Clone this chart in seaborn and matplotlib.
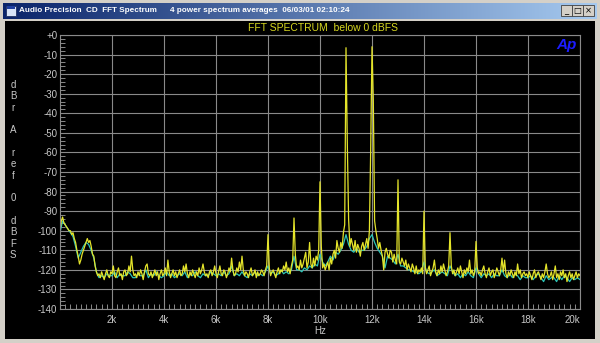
import numpy as np
import pandas as pd
import matplotlib
matplotlib.use("Agg")
import matplotlib.pyplot as plt
import seaborn as sns
from matplotlib.patches import Rectangle
from matplotlib.ticker import MultipleLocator

# ---------------- data (dB re 0 dBFS) ----------------
yellow_step_hz = 50
yellow_db = [
    -100, -95, -93, -96, -97, -98, -99, -100, -100, -102, -101, -104, -106, -110, -113, -117, -115, -112, -110, -108,
    -106, -104, -106, -105, -108, -112, -113, -118, -121, -123, -122, -124, -121, -123, -125, -122, -120, -123, -124, -121,
    -122, -118, -123, -124, -121, -119, -123, -122, -125, -121, -120, -123, -122, -118, -121, -113, -120, -123, -122, -124,
    -121, -123, -120, -122, -125, -121, -118, -117, -122, -123, -121, -124, -122, -120, -123, -121, -125, -122, -120, -123,
    -122, -119, -123, -115, -121, -124, -122, -120, -123, -121, -124, -122, -120, -123, -122, -118, -121, -117, -122, -124,
    -121, -123, -120, -122, -124, -121, -123, -119, -122, -120, -117, -121, -123, -122, -124, -121, -120, -123, -121, -118,
    -122, -124, -121, -118, -122, -123, -120, -121, -124, -122, -119, -121, -114, -120, -123, -122, -119, -121, -116, -120,
    -113, -120, -123, -121, -122, -124, -121, -119, -123, -122, -120, -124, -121, -123, -122, -120, -121, -123, -120, -118,
    -102, -119, -123, -121, -120, -122, -124, -121, -119, -122, -120, -121, -118, -120, -116, -121, -119, -122, -118, -115,
    -93.5, -112, -119, -118, -120, -115, -119, -117, -114, -111, -119, -116, -106, -117, -119, -114, -118, -113, -115, -110,
    -75, -108, -119, -117, -120, -118, -116, -120, -114, -117, -112, -110, -114, -105, -109, -111, -106, -109, -101, -97,
    -6.5, -55, -94, -108, -104, -107, -110, -105, -111, -107, -109, -113, -108, -106, -110, -107, -104, -109, -100, -58,
    -6, -33, -95, -100, -104, -109, -106, -110, -113, -120, -111, -109, -112, -114, -110, -111, -116, -112, -115, -117,
    -74, -116, -117, -114, -116, -118, -115, -120, -117, -119, -121, -117, -119, -122, -118, -122, -120, -121, -119, -122,
    -90, -119, -122, -120, -118, -123, -121, -119, -115, -121, -123, -120, -122, -118, -121, -117, -120, -123, -121, -118,
    -101, -118, -122, -120, -123, -121, -119, -122, -118, -121, -124, -120, -122, -119, -121, -115, -122, -120, -123, -121,
    -105.5, -119, -122, -121, -123, -120, -118, -122, -124, -121, -119, -123, -121, -120, -124, -122, -119, -121, -123, -120,
    -114, -121, -115, -122, -124, -121, -123, -120, -122, -124, -121, -123, -117, -122, -120, -124, -122, -121, -123, -122,
    -124, -121, -123, -125, -122, -120, -124, -122, -121, -123, -125, -122, -124, -121, -117, -122, -124, -123, -121, -125,
    -122, -118, -124, -122, -125, -121, -123, -120, -124, -122, -126, -123, -121, -124, -122, -125, -123, -121, -124, -122,
    -123,
]

cyan_step_hz = 100
cyan_db = [
    -101, -95, -97, -99, -101, -103, -108, -114, -111, -108,
    -106, -107, -110, -114, -121, -124, -123, -124, -122, -123,
    -123, -121, -124, -122, -123, -123, -121, -122, -124, -124,
    -122, -123, -123, -120, -124, -122, -123, -121, -123, -124,
    -123, -121, -123, -122, -124, -123, -122, -123, -121, -124,
    -122, -123, -121, -123, -124, -122, -123, -123, -121, -122,
    -123, -122, -123, -121, -123, -122, -118, -123, -122, -123,
    -121, -123, -124, -122, -123, -121, -123, -122, -123, -121,
    -118, -122, -121, -123, -122, -120, -122, -121, -122, -120,
    -113, -120, -120, -121, -119, -120, -118, -119, -117, -118,
    -112, -116, -118, -116, -113, -115, -111, -112, -110, -107,
    -102, -107, -110, -111, -109, -111, -110, -110, -108, -104,
    -102, -106, -109, -111, -113, -119, -113, -114, -115, -117,
    -112, -118, -118, -119, -120, -120, -121, -121, -122, -121,
    -116, -121, -122, -121, -120, -123, -122, -121, -122, -123,
    -118, -121, -123, -122, -124, -122, -123, -121, -123, -124,
    -119, -122, -124, -122, -123, -122, -124, -122, -123, -123,
    -120, -123, -124, -122, -124, -122, -123, -125, -123, -124,
    -124, -123, -125, -123, -122, -124, -126, -123, -125, -124,
    -124, -126, -123, -125, -123, -124, -126, -124, -125, -124,
    -125,
]

y_ticks = [0, -10, -20, -30, -40, -50, -60, -70, -80, -90, -100, -110, -120, -130, -140]
y_tick_labels = ["+0", "-10", "-20", "-30", "-40", "-50", "-60", "-70", "-80", "-90",
                 "-100", "-110", "-120", "-130", "-140"]
x_ticks = [2000, 4000, 6000, 8000, 10000, 12000, 14000, 16000, 18000, 20000]
x_tick_labels = ["2k", "4k", "6k", "8k", "10k", "12k", "14k", "16k", "18k", "20k"]

window_title = "Audio Precision  CD  FFT Spectrum"
window_info = "4 power spectrum averages  06/03/01 02:10:24"
chart_title = "FFT SPECTRUM  below 0 dBFS"
y_label = "dBr A ref 0 dBFS"
x_label = "Hz"

df_y = pd.DataFrame({"Hz": np.arange(len(yellow_db)) * yellow_step_hz, "dB": yellow_db})
df_c = pd.DataFrame({"Hz": np.arange(len(cyan_db)) * cyan_step_hz, "dB": cyan_db})

# ---------------- style ----------------
sns.set_theme(style="dark")
plt.rcParams['font.family'] = ['Liberation Sans', 'DejaVu Sans']

W, H = 600, 343
fig = plt.figure(figsize=(W / 100, H / 100), dpi=100, facecolor='#d4d0c8')


def frac(x, y, w, h):
    return [x / W, 1 - (y + h) / H, w / W, h / H]


def rect(x, y, w, h, z=1, **kw):
    l, b, ww, hh = frac(x, y, w, h)
    fig.add_artist(Rectangle((l, b), ww, hh, transform=fig.transFigure, zorder=z, **kw))


# window chrome
rect(5, 21, 590, 318, z=-5, facecolor='black', edgecolor='none')
tb = fig.add_axes(frac(3, 3, 594, 16))
tb.imshow(np.linspace(0, 1, 256)[None, :], aspect='auto',
          cmap=matplotlib.colors.LinearSegmentedColormap.from_list('tb', ['#0a246a', '#a6caf0']))
tb.set_axis_off()
rect(6, 6, 10, 10, z=5, facecolor='#d8e4f8', edgecolor='#203060', lw=0.6)
rect(7, 6, 8, 2.5, z=6, facecolor='#2040a0', edgecolor='none')
fig.text(19 / W, 1 - 11 / H, window_title, color='white', fontsize=5.9, fontweight='bold',
         va='center', ha='left')
fig.text(170 / W, 1 - 11 / H, window_info, color='white', fontsize=5.9, fontweight='bold',
         va='center', ha='left')
for bx, sym in [(561, "_"), (572, "\u25a1"), (583, "\u00d7")]:
    rect(bx, 5, 11, 11, z=5, facecolor='#d4d0c8', edgecolor='#404040', lw=0.6)
    fig.text((bx + 5.5) / W, 1 - 10.5 / H, sym, color='black', fontsize=6, ha='center', va='center',
             family=['DejaVu Sans'], zorder=7)

# plot area
ax = fig.add_axes(frac(60, 35, 520, 274))
ax.set_facecolor('black')
sns.lineplot(data=df_c, x="Hz", y="dB", ax=ax, color='#2cc4b8', lw=0.9, estimator=None)
sns.lineplot(data=df_y, x="Hz", y="dB", ax=ax, color='#e4e42a', lw=0.9, estimator=None)
ax.set_xlim(0, 20000)
ax.set_ylim(-140, 0)
ax.set_xlabel("")
ax.set_ylabel("")

grid_c = '#8a8a8a'
ax.set_xticks(x_ticks)
ax.set_xticklabels(x_tick_labels)
ax.set_yticks(y_ticks)
ax.set_yticklabels(y_tick_labels)
ax.xaxis.set_minor_locator(MultipleLocator(200))
ax.yaxis.set_minor_locator(MultipleLocator(2))
ax.grid(True, which='major', color=grid_c, lw=0.8)
ax.grid(False, which='minor')
ax.set_axisbelow(True)
ax.tick_params(axis='both', which='major', length=0, colors='#c8c8c8', labelsize=7)
ax.tick_params(axis='x', which='major', pad=4)
ax.tick_params(axis='y', which='major', pad=2)
ax.tick_params(axis='both', which='minor', direction='in', length=3.5, color=grid_c, width=0.7,
               bottom=True, left=True)
for sp in ax.spines.values():
    sp.set_color(grid_c)
    sp.set_linewidth(0.8)
lbls = ax.get_xticklabels()
lbls[-1].set_ha('right')

fig.text(323 / W, 1 - 28 / H, chart_title, color='#d8d820', fontsize=7.5, ha='center', va='center')
fig.text(320 / W, 1 - 331 / H, x_label, color='#c8c8c8', fontsize=7, ha='center', va='center')
letters = ["d", "B", "r", "", "A", "", "r", "e", "f", "", "0", "", "d", "B", "F", "S"]
fig.text(13 / W, 1 - 170 / H, "\n".join(letters), color='#c8c8c8', fontsize=7, ha='center',
         va='center', linespacing=1.17)
fig.text(566 / W, 1 - 45 / H, "Ap", color='#1c1cff', fontsize=11, fontweight='bold', style='italic',
         ha='center', va='center')

fig.savefig("out.png", dpi=100, facecolor=fig.get_facecolor())
